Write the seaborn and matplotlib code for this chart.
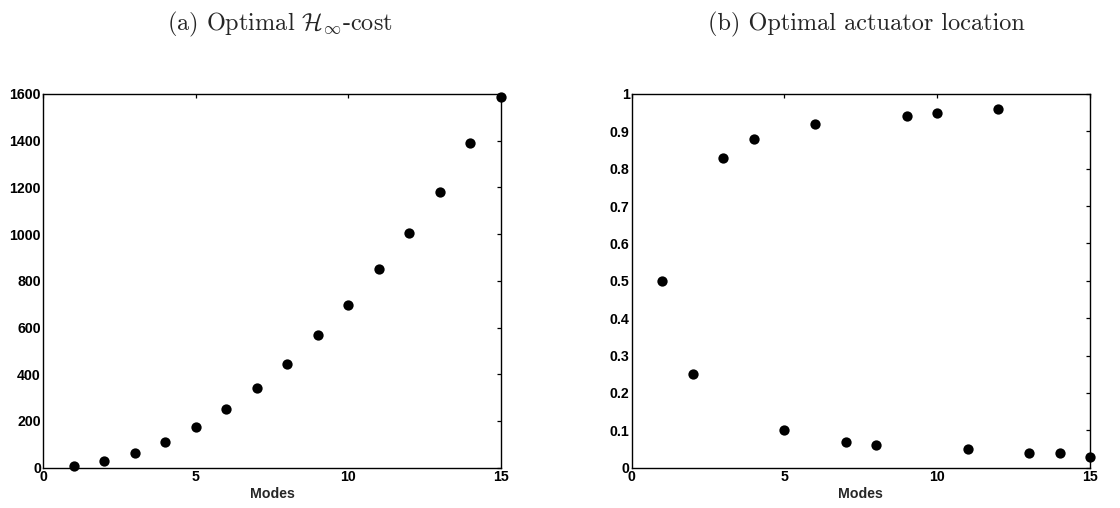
import matplotlib
matplotlib.use("Agg")
import matplotlib.pyplot as plt
from matplotlib import font_manager as fm
import seaborn as sns
import pandas as pd

# Data
modes = [1, 2, 3, 4, 5, 6, 7, 8, 9, 10, 11, 12, 13, 14, 15]
hinf_cost = [7, 28, 64, 111, 173, 250, 341, 446, 567, 695, 852, 1004, 1179, 1389, 1586]
act_loc = [0.50, 0.25, 0.83, 0.88, 0.10, 0.92, 0.07, 0.06, 0.94, 0.95, 0.05, 0.96, 0.04, 0.04, 0.03]
xticks = [0, 5, 10, 15]
yticks_a = [0, 200, 400, 600, 800, 1000, 1200, 1400, 1600]
yticks_b = [0, 0.1, 0.2, 0.3, 0.4, 0.5, 0.6, 0.7, 0.8, 0.9, 1]
ytick_labels_b = ["0", "0.1", "0.2", "0.3", "0.4", "0.5", "0.6", "0.7", "0.8", "0.9", "1"]
titles = [r"(a) Optimal $\mathcal{H}_{\infty}$-cost", "(b) Optimal actuator location"]

sns.set_style("white")
plt.rcParams["mathtext.fontset"] = "cm"

# find a regular-width bold sans (Arial-like) font file
bold_path = None
for f in fm.findSystemFonts():
    name = f.split("/")[-1]
    if name == "LiberationSans-Bold.ttf":
        bold_path = f
        break
if bold_path:
    tick_fp = fm.FontProperties(fname=bold_path, size=10.2)
else:
    tick_fp = fm.FontProperties(family="DejaVu Sans", weight="bold", size=9.5)

df_a = pd.DataFrame({"Modes": modes, "val": hinf_cost})
df_b = pd.DataFrame({"Modes": modes, "val": act_loc})

fig = plt.figure(figsize=(11.2, 5.08), dpi=100)
ax_a = fig.add_axes([0.0384, 0.0793, 0.4089, 0.7357])
ax_b = fig.add_axes([0.5640, 0.0793, 0.4093, 0.7357])

for ax, df, yt, ylab, ymax in [
    (ax_a, df_a, yticks_a, [str(v) for v in yticks_a], 1600),
    (ax_b, df_b, yticks_b, ytick_labels_b, 1),
]:
    sns.scatterplot(data=df, x="Modes", y="val", ax=ax, color="black",
                    s=55, edgecolor="black", linewidth=0, clip_on=False, zorder=5)
    ax.set_xlim(0, 15)
    ax.set_ylim(0, ymax)
    ax.set_xticks(xticks)
    ax.set_xticklabels([str(v) for v in xticks], fontproperties=tick_fp)
    ax.set_yticks(yt)
    ax.set_yticklabels(ylab, fontproperties=tick_fp)
    ax.tick_params(direction="in", length=3.2, width=0.9, top=True, right=True,
                   pad=1.5, colors="black")
    for sp in ax.spines.values():
        sp.set_visible(True)
        sp.set_linewidth(1.0)
        sp.set_color("black")
    ax.set_xlabel("Modes", fontproperties=tick_fp, labelpad=2.5)
    ax.set_ylabel("")

fig.text(0.25, 0.952, titles[0], ha="center", va="center", fontsize=17.5, family="cmr10")
fig.text(0.774, 0.952, titles[1], ha="center", va="center", fontsize=17.5, family="cmr10")

fig.savefig("out.png", dpi=100)
